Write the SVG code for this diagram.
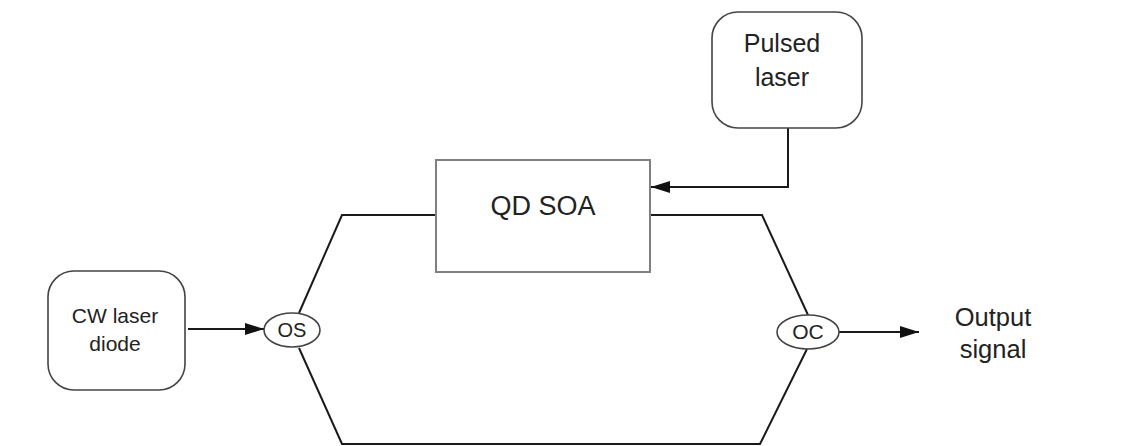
<svg xmlns="http://www.w3.org/2000/svg" width="1145" height="446" viewBox="0 0 1145 446">
<style>
.node{fill:#fff;stroke:#444;stroke-width:1.6}
.box{fill:#fff;stroke:#808080;stroke-width:2}
.lbl{font-family:"Liberation Sans",Arial,sans-serif;fill:#222;text-anchor:middle}
.wire{fill:none;stroke:#1a1a1a;stroke-width:2}
</style>
<defs>
<marker id="arr" markerWidth="20" markerHeight="12" refX="19" refY="6" orient="auto" markerUnits="userSpaceOnUse">
<path d="M0,0 L19,6 L0,12 Z" fill="#111"/>
</marker>
</defs>
<rect width="1145" height="446" fill="#fff"/>
<g id="connectors">
<path class="wire" d="M788,128 V187 H651" marker-end="url(#arr)"/>
<path class="wire" d="M188,329 H264" marker-end="url(#arr)"/>
<path class="wire" d="M839,332 H919" marker-end="url(#arr)"/>
<path class="wire" d="M299,313 L342,215 H436"/>
<path class="wire" d="M650,215 H762 L808,315"/>
<path class="wire" d="M299,348 L342,444 H760 L807,349"/>
</g>
<g id="pulsed">
<rect class="node" x="712" y="12" width="150" height="116" rx="26"/>
<text class="lbl" x="782" y="52" font-size="25">Pulsed</text>
<text class="lbl" x="782" y="86" font-size="25">laser</text>
</g>
<g id="soa">
<rect class="box" x="436" y="160" width="214" height="112"/>
<text class="lbl" x="543" y="215" font-size="27">QD SOA</text>
</g>
<g id="cw">
<rect class="node" x="48" y="271" width="137" height="119" rx="26"/>
<text class="lbl" x="115" y="323" font-size="21">CW laser</text>
<text class="lbl" x="115" y="351" font-size="21">diode</text>
</g>
<g id="os">
<ellipse class="node" cx="292" cy="330" rx="28" ry="17"/>
<text class="lbl" x="292" y="337" font-size="20">OS</text>
</g>
<g id="oc">
<ellipse class="node" cx="808" cy="332" rx="31" ry="17"/>
<text class="lbl" x="808" y="339" font-size="21">OC</text>
</g>
<g id="output">
<text class="lbl" x="993" y="326" font-size="25.5">Output</text>
<text class="lbl" x="993" y="358" font-size="25.5">signal</text>
</g>
</svg>
